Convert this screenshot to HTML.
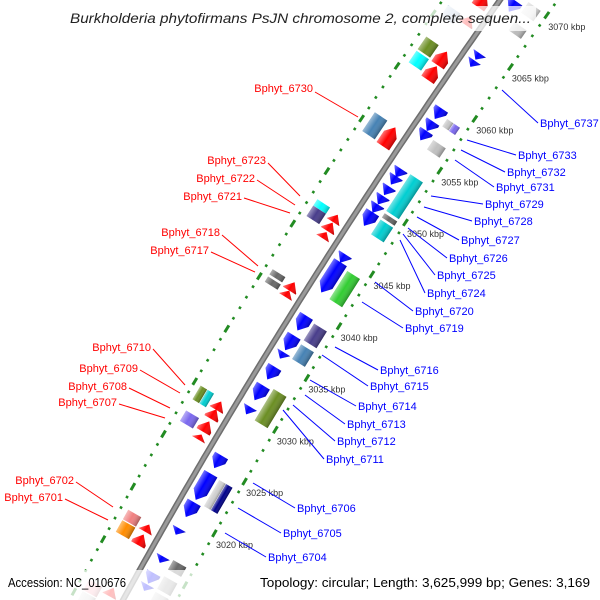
<!DOCTYPE html>
<html><head><meta charset="utf-8"><style>
html,body{margin:0;background:#fff;overflow:hidden;width:600px;height:600px}
svg{display:block}
text{font-family:"Liberation Sans",sans-serif}
</style></head><body>
<svg id="map" width="600" height="600" viewBox="0 0 600 600" xmlns="http://www.w3.org/2000/svg">
<defs>
<linearGradient id="shade" x1="0" y1="0" x2="0" y2="1">
<stop offset="0" stop-color="#fff" stop-opacity="0.45"/>
<stop offset="0.45" stop-color="#fff" stop-opacity="0"/>
<stop offset="1" stop-color="#000" stop-opacity="0.3"/>
</linearGradient>
</defs>
<rect width="600" height="600" fill="#fff"/>
<g id="ticks"></g>
<g id="backbone"></g>
<g id="features"></g>
<g id="labels" font-size="11">
<g fill="#f00" stroke="#f00" stroke-width="1" text-anchor="end">
<line x1="315" y1="92" x2="358" y2="117"/><text stroke="none" x="313" y="92">Bphyt_6730</text>
<line x1="268" y1="163" x2="300" y2="196"/><text stroke="none" x="266" y="164">Bphyt_6723</text>
<line x1="257" y1="180" x2="295" y2="205"/><text stroke="none" x="255" y="182">Bphyt_6722</text>
<line x1="244" y1="198" x2="290" y2="213"/><text stroke="none" x="242" y="200">Bphyt_6721</text>
<line x1="222" y1="235" x2="258" y2="266"/><text stroke="none" x="220" y="236">Bphyt_6718</text>
<line x1="211" y1="252" x2="255" y2="272"/><text stroke="none" x="209" y="254">Bphyt_6717</text>
<line x1="153" y1="349" x2="185" y2="385"/><text stroke="none" x="151" y="351">Bphyt_6710</text>
<line x1="140" y1="370" x2="180" y2="393"/><text stroke="none" x="138" y="372">Bphyt_6709</text>
<line x1="129" y1="388" x2="170" y2="408"/><text stroke="none" x="127" y="390">Bphyt_6708</text>
<line x1="119" y1="404" x2="165" y2="418"/><text stroke="none" x="117" y="406">Bphyt_6707</text>
<line x1="76" y1="482" x2="113" y2="507"/><text stroke="none" x="74" y="484">Bphyt_6702</text>
<line x1="65" y1="499" x2="108" y2="520"/><text stroke="none" x="63" y="501">Bphyt_6701</text>
</g>
<g fill="#00f" stroke="#00f" stroke-width="1">
<line x1="502" y1="90" x2="538" y2="123"/><text stroke="none" x="540" y="127">Bphyt_6737</text>
<line x1="467" y1="140" x2="516" y2="155"/><text stroke="none" x="518" y="159">Bphyt_6733</text>
<line x1="461" y1="150" x2="505" y2="172"/><text stroke="none" x="507" y="176">Bphyt_6732</text>
<line x1="455" y1="160" x2="494" y2="187"/><text stroke="none" x="496" y="191">Bphyt_6731</text>
<line x1="431" y1="196" x2="483" y2="204"/><text stroke="none" x="485" y="208">Bphyt_6729</text>
<line x1="424" y1="207" x2="472" y2="221"/><text stroke="none" x="474" y="225">Bphyt_6728</text>
<line x1="417" y1="217" x2="459" y2="240"/><text stroke="none" x="461" y="244">Bphyt_6727</text>
<line x1="408" y1="228" x2="447" y2="258"/><text stroke="none" x="449" y="262">Bphyt_6726</text>
<line x1="403" y1="234" x2="435" y2="275"/><text stroke="none" x="437" y="279">Bphyt_6725</text>
<line x1="400" y1="240" x2="425" y2="293"/><text stroke="none" x="427" y="297">Bphyt_6724</text>
<line x1="375" y1="282" x2="413" y2="311"/><text stroke="none" x="415" y="315">Bphyt_6720</text>
<line x1="362" y1="302" x2="403" y2="328"/><text stroke="none" x="405" y="332">Bphyt_6719</text>
<line x1="335" y1="347" x2="378" y2="370"/><text stroke="none" x="380" y="374">Bphyt_6716</text>
<line x1="322" y1="355" x2="368" y2="386"/><text stroke="none" x="370" y="390">Bphyt_6715</text>
<line x1="310" y1="380" x2="356" y2="406"/><text stroke="none" x="358" y="410">Bphyt_6714</text>
<line x1="305" y1="395" x2="345" y2="424"/><text stroke="none" x="347" y="428">Bphyt_6713</text>
<line x1="293" y1="405" x2="335" y2="441"/><text stroke="none" x="337" y="445">Bphyt_6712</text>
<line x1="283" y1="410" x2="324" y2="459"/><text stroke="none" x="326" y="463">Bphyt_6711</text>
<line x1="253" y1="483" x2="295" y2="508"/><text stroke="none" x="297" y="512">Bphyt_6706</text>
<line x1="238" y1="508" x2="281" y2="533"/><text stroke="none" x="283" y="537">Bphyt_6705</text>
<line x1="225" y1="533" x2="266" y2="557"/><text stroke="none" x="268" y="561">Bphyt_6704</text>
</g>
</g>
<rect x="66" y="6" width="470" height="25" fill="#fff" fill-opacity="0.75"/>
<text x="70" y="23" font-size="14" font-style="italic" fill="#222" textLength="461" lengthAdjust="spacingAndGlyphs">Burkholderia phytofirmans PsJN chromosome 2, complete sequen...</text>
<rect x="0" y="570" width="600" height="30" fill="#fff" fill-opacity="0.75"/>
<text x="8" y="587" font-size="13" fill="#000" textLength="118" lengthAdjust="spacingAndGlyphs">Accession: NC_010676</text>
<text x="260" y="587" font-size="13" fill="#000" textLength="330" lengthAdjust="spacingAndGlyphs">Topology: circular; Length: 3,625,999 bp; Genes: 3,169</text>
</svg>
<script>
// ---- data ----
const tickKbp = [3020,3025,3030,3035,3040,3045,3050,3055,3060,3065,3070];
const tickLabels = ["3020 kbp","3025 kbp","3030 kbp","3035 kbp","3040 kbp","3045 kbp","3050 kbp","3055 kbp","3060 kbp","3065 kbp","3070 kbp"];
// reverse-strand genes (kbp centre, kbp length)
const revStart = [3069.0,3064.2,3063.5,3058.7,3057.5,3056.6,3053.0,3052.3,3051.3,3050.4,3049.6,3048.6,3044.8,3043.0,3038.6,3036.7,3035.5,3033.8,3031.9,3030.2,3025.3,3022.9,3020.7,3018.6,3015.9,3014.1,3013.2];
const revLen   = [1.0,0.6,0.6,1.0,0.9,0.9,0.8,0.8,0.8,0.8,0.8,1.3,0.8,2.9,1.4,1.4,0.6,1.2,1.4,0.7,1.2,2.5,1.4,0.6,0.6,1.0,0.6];
// forward-strand genes
const fwdStart = [3068.0,3066.1,3062.5,3061.1,3055.0,3047.2,3046.4,3045.6,3040.7,3040.0,3029.3,3028.5,3027.3,3026.3,3017.6,3016.5,3011.5];
const fwdLen   = [1.2,0.8,1.3,1.3,1.8,0.7,0.8,0.6,0.8,0.6,0.8,0.9,1.0,0.5,0.7,1.0,0.8];
// COG boxes, reverse side
const cogRKbp = [3069.5,3067.7,3058.4,3058.4,3056.3,3051.7,3049.5,3048.4,3042.8,3038.3,3036.4,3031.3,3022.8,3022.8,3015.9,3014.2,3012.8];
const cogRLen = [1.0,0.8,0.7,0.7,0.9,3.5,0.4,1.4,2.7,1.6,1.4,3.0,2.5,2.5,0.9,1.2,1.0];
const cogRCol = ["#dddddd","#bbbbbb","#c8c8c8","#7b68ee","#c0c0c0","#00ced1","#666666","#00ced1","#32cd32","#483d8b","#4682b4","#6b8e23","#d0d0d0","#00008b","#696969","#aaaaaa","#cccccc"];
const cogRPart = ["full","full","inner","outer","full","full","full","full","full","full","full","full","inner","outer","full","full","full"];
// COG boxes, forward side
const cogLKbp = [3065.7,3062.6,3061.3,3055.1,3047.4,3046.6,3040.8,3040.1,3029.3,3029.3,3027.1,3017.7,3016.6,3011.0,3009.9];
const cogLLen = [1.0,1.2,1.1,1.8,0.6,1.0,0.5,0.5,1.3,1.3,1.0,0.9,1.1,1.0,1.0];
const cogLCol = ["#b0c4de","#6b8e23","#00ffff","#4682b4","#00ffff","#483d8b","#696969","#696969","#00ced1","#6b8e23","#7b68ee","#f08080","#ff8c00","#ffb6c1","#dddddd"];
const cogLPart = ["full","full","full","full","full","full","full","full","inner","outer","full","full","full","full","full"];

// ---- axis ----
const A = 0.0001278, B = -0.705, PXK = 10.44;
function pt(k, off){
  const yb = 510 - (k-3020)*PXK;
  const xb = 500 + B*yb + A*yb*yb;
  const d = 2*A*yb + B;
  const nrm = Math.sqrt(1+d*d);
  const nx = 1/nrm, ny = -d/nrm;
  const ang = Math.atan2(-1/nrm, -d/nrm)*180/Math.PI;
  return {x: xb + off*nx, y: yb + off*ny, ang: ang, s: PXK*nrm};
}
const NS = "http://www.w3.org/2000/svg";
function mk(tag, attrs, parent){
  const e = document.createElementNS(NS, tag);
  for (const k in attrs) e.setAttribute(k, attrs[k]);
  parent.appendChild(e);
  return e;
}
// backbone
const bb = document.getElementById('backbone');
let pts = [];
for (let k = 3005; k <= 3076; k += 0.5){ const p = pt(k,0); pts.push(p.x.toFixed(1)+','+p.y.toFixed(1)); }
const bl1 = mk('polyline',{points:pts.join(' '),fill:'none',stroke:'#6e6e6e','stroke-width':6},bb);


const bl2 = mk('polyline',{points:pts.join(' '),fill:'none',stroke:'#9a9a9a','stroke-width':3},bb);



// ruler dots & ticks
const tg = document.getElementById('ticks');
for (let k = 3006; k <= 3075; k++){
  [-47,47].forEach(function(off){
    const p = pt(k, off);
    const major = (k % 5 === 0);
    const g = mk('g',{transform:`translate(${p.x.toFixed(1)},${p.y.toFixed(1)}) rotate(${p.ang.toFixed(1)})`},tg);
    const r = mk('rect', major ? {x:-4,y:-1.5,width:8,height:3,fill:'#228b22'} : {x:-1.2,y:-1.2,width:2.6,height:2.6,fill:'#228b22'}, g);
    
    
  });
}
tickKbp.forEach(function(k,i){
  const p = pt(k, 50);
  const t = mk('text',{x:(p.x-1).toFixed(1),y:(p.y+13).toFixed(1),'font-size':9,fill:'#333'},tg);
  t.textContent = tickLabels[i];
  
  
});

// features
const fg = document.getElementById('features');
function feature(k, len, off, w, color, strand, name){
  const p = pt(k, off);
  const L = Math.max(len*p.s, 5);
  const g = mk('g',{transform:`translate(${p.x.toFixed(1)},${p.y.toFixed(1)}) rotate(${p.ang.toFixed(1)})`},fg);
  let d;
  const hw = w/2, hl = L/2;
  if (strand === 0){
    d = `M${-hl},${-hw}H${hl}V${hw}H${-hl}Z`;
  } else {
    const h = Math.min(L, 9);
    if (strand > 0) d = `M${-hl},${-hw}L${hl-h},${-hw}L${hl},0L${hl-h},${hw}L${-hl},${hw}Z`;
    else d = `M${hl},${-hw}L${-hl+h},${-hw}L${-hl},0L${-hl+h},${hw}L${hl},${hw}Z`;
  }
  const a = mk('path',{d:d,fill:color},g);
  
  
  const b = mk('path',{d:d,fill:'url(#shade)'},g);
  
  
}
revStart.forEach(function(k,i){ feature(k, revLen[i], 14, 15, '#0000ff', -1, 'reverse-gene'); });
fwdStart.forEach(function(k,i){ feature(k, fwdLen[i], -14, 15, '#ff0000', 1, 'forward-gene'); });
function partOff(base, part){ return part === 'inner' ? base - Math.sign(base)*4 : part === 'outer' ? base + Math.sign(base)*4 : base; }
cogRKbp.forEach(function(k,i){
  const part = cogRPart[i];
  feature(k, cogRLen[i], partOff(32, part), part === 'full' ? 15 : 7.5, cogRCol[i], 0, 'cog-box-reverse');
});
cogLKbp.forEach(function(k,i){
  const part = cogLPart[i];
  feature(k, cogLLen[i], partOff(-32, part), part === 'full' ? 15 : 7.5, cogLCol[i], 0, 'cog-box-forward');
});
</script>
</body></html>
